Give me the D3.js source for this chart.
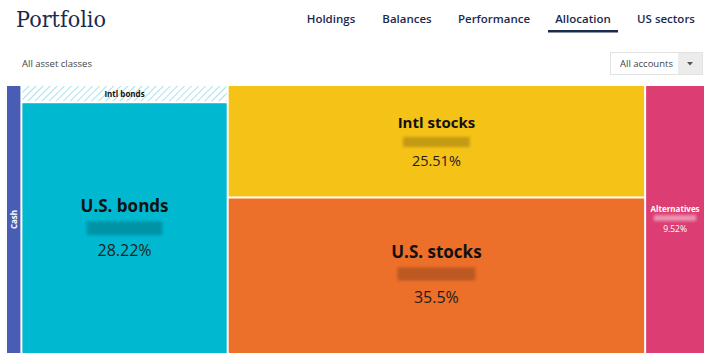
<!DOCTYPE html>
<html>
<head>
<meta charset="utf-8">
<script src="https://cdn.jsdelivr.net/npm/d3@7"></script>
<style>
  html, body { margin: 0; padding: 0; background: #fff; }
  svg { display: block; font-family: "Open Sans", sans-serif; }
</style>
</head>
<body>
<svg id="chart" width="720" height="357"></svg>
<script>
// ---- data ----
const groups      = ["Cash", "Bonds", "Bonds", "Stocks", "Stocks", "Alternatives"];
const categories  = ["Cash", "Intl bonds", "U.S. bonds", "Intl stocks", "U.S. stocks", "Alternatives"];
const sizes       = [2.25, 1.93, 28.22, 25.51, 35.5, 8.75];      // area weights
const pctLabels   = [null, null, "28.22%", "25.51%", "35.5%", "9.52%"];
const colors      = ["#4a5db4", "hatch", "#00b9d1", "#f5c218", "#ec6f2a", "#dc3d72"];
const navItems    = ["Holdings", "Balances", "Performance", "Allocation", "US sectors"];
const activeNav   = "Allocation";

const svg = d3.select("#chart");
const defs = svg.append("defs");
const pat = defs.append("pattern").attr("id", "hatch").attr("patternUnits", "userSpaceOnUse")
  .attr("width", 5).attr("height", 5).attr("patternTransform", "rotate(45)");
pat.append("rect").attr("width", 5).attr("height", 5).attr("fill", "#fff");
pat.append("line").attr("x1", 0).attr("y1", 0).attr("x2", 0).attr("y2", 5)
  .attr("stroke", "#a9e2ea").attr("stroke-width", 2);
defs.append("filter").attr("id", "blur").attr("x", "-20%").attr("y", "-40%").attr("width", "140%").attr("height", "180%")
  .append("feGaussianBlur").attr("stdDeviation", 1.4);

// ---- header ----
svg.append("text").attr("x", 16).attr("y", 27).text("Portfolio")
  .attr("font-family", "'DejaVu Serif', serif").attr("font-size", 22).attr("fill", "#1c2a4e")
  .attr("textLength", 90).attr("lengthAdjust", "spacingAndGlyphs");

const navCenters = [331, 407, 494, 583, 666];
navItems.forEach((n, i) => {
  svg.append("text").attr("x", navCenters[i]).attr("y", 23).attr("text-anchor", "middle")
    .attr("font-size", 11.5).attr("font-weight", 600).attr("fill", "#1c2a4e").text(n);
  if (n === activeNav) {
    svg.append("rect").attr("x", navCenters[i] - 35).attr("y", 30).attr("width", 70).attr("height", 2.5)
      .attr("fill", "#1c2a4e");
  }
});

svg.append("text").attr("x", 22).attr("y", 67).attr("font-size", 9.5).attr("fill", "#444").text("All asset classes");

// dropdown
svg.append("rect").attr("x", 610.5).attr("y", 52.5).attr("width", 92).attr("height", 22)
  .attr("fill", "#fff").attr("stroke", "#e2e2e2");
svg.append("rect").attr("x", 678).attr("y", 53).attr("width", 24).attr("height", 21).attr("fill", "#ececec");
svg.append("text").attr("x", 620).attr("y", 67).attr("font-size", 9.5).attr("fill", "#444").text("All accounts");
svg.append("path").attr("d", "M687,62 L693,62 L690,65.5 Z").attr("fill", "#555");

// ---- treemap ----
const groupOrder = [...new Set(groups)];
const rootData = {
  name: "root",
  children: groupOrder.map(g => ({
    name: g,
    children: categories.map((c, i) => ({ name: c, value: sizes[i], idx: i })).filter((d, i) => groups[i] === g)
  }))
};
const root = d3.hierarchy(rootData).sum(d => d.value || 0);
d3.treemap().tile(d3.treemapSliceDice).size([697, 267]).paddingInner(2).round(false)(root);

const g = svg.append("g").attr("transform", "translate(7,86)");
const leaves = root.leaves();
const cell = g.selectAll("g.cell").data(leaves).join("g").attr("class", "cell");

cell.append("rect")
  .attr("x", d => d.x0).attr("y", d => d.y0)
  .attr("width", d => d.x1 - d.x0).attr("height", d => d.y1 - d.y0)
  .attr("fill", d => colors[d.data.idx] === "hatch" ? "url(#hatch)" : colors[d.data.idx]);

// label styles by category (offsets relative to cell top / title baseline)
const style = {
  "U.S. bonds":  { t: 17, p: 16,   ty: 109, by: 9, bh: 14, pd: 44, dark: true },
  "Intl stocks": { t: 15, p: 14.5, ty: 42,  by: 9, bh: 10, pd: 38, dark: true },
  "U.S. stocks": { t: 17, p: 16,   ty: 60,  by: 9, bh: 13, pd: 45, dark: true },
  "Alternatives":{ t: 8,  p: 8.5,  ty: 126, by: 3, bh: 6,  pd: 20, dark: false }
};

cell.each(function(d) {
  const sel = d3.select(this);
  const name = d.data.name;
  const cx = (d.x0 + d.x1) / 2;
  if (name === "Cash") {
    const cy = (d.y0 + d.y1) / 2;
    sel.append("text").attr("transform", `translate(${cx + 3},${cy}) rotate(-90)`)
      .attr("text-anchor", "middle").attr("font-size", 8).attr("font-weight", 700).attr("fill", "#fff").text(name);
    return;
  }
  if (name === "Intl bonds") {
    sel.append("text").attr("x", cx).attr("y", (d.y0 + d.y1) / 2 + 3).attr("text-anchor", "middle")
      .attr("font-size", 8).attr("font-weight", 700).attr("fill", "#111").text(name);
    return;
  }
  const s = style[name];
  const base = d.y0 + s.ty;
  const title = sel.append("text").attr("x", cx).attr("y", base).attr("text-anchor", "middle")
    .attr("font-size", s.t).attr("font-weight", 700).attr("fill", s.dark ? "#111" : "#fff").text(name);
  const tw = title.node().getComputedTextLength();
  const bw = tw * 0.86;
  sel.append("rect").attr("x", cx - bw / 2).attr("y", base + s.by).attr("width", bw).attr("height", s.bh)
    .attr("fill", s.dark ? "#000" : "#fff").attr("opacity", s.dark ? 0.2 : 0.45).attr("filter", "url(#blur)");
  sel.append("text").attr("x", cx).attr("y", base + s.pd).attr("text-anchor", "middle")
    .attr("font-size", s.p).attr("fill", s.dark ? "#1d1d1d" : "#fff").text(pctLabels[d.data.idx]);
});
</script>
</body>
</html>
